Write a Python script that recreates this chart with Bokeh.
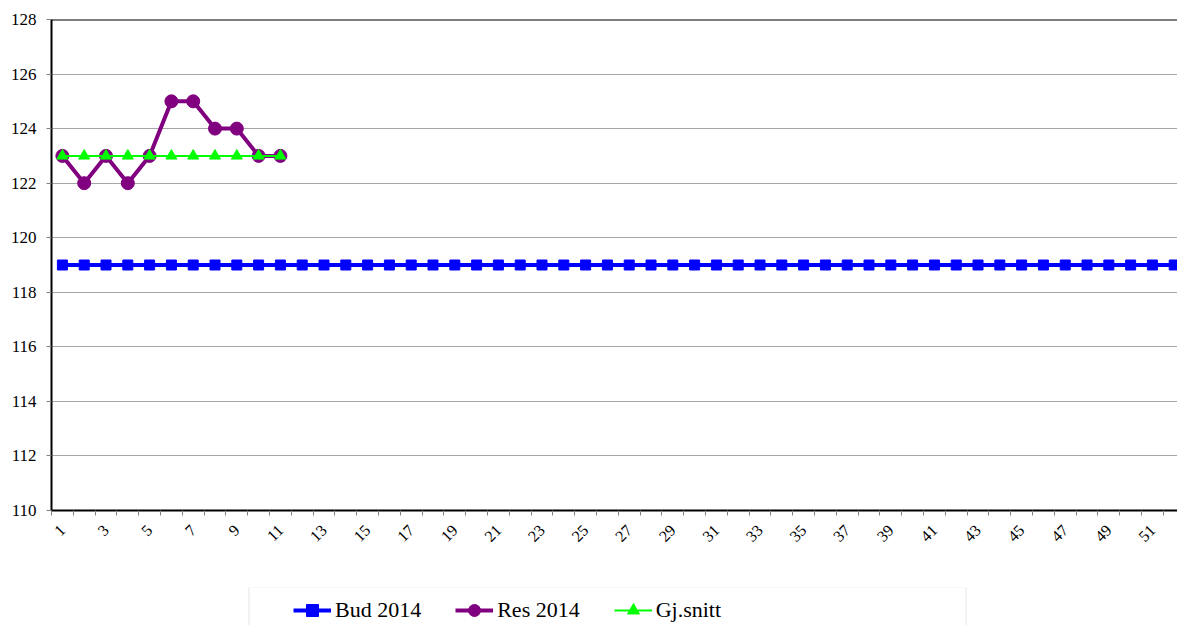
from bokeh.plotting import figure
from bokeh.models import Range1d, FixedTicker, Legend, LegendItem, Span, BoxAnnotation
from bokeh.layouts import column
from bokeh.embed import file_html
from bokeh.resources import INLINE
import math

weeks = list(range(1, 53))
bud_2014 = [119, 119, 119, 119, 119, 119, 119, 119, 119, 119, 119, 119, 119,
            119, 119, 119, 119, 119, 119, 119, 119, 119, 119, 119, 119, 119,
            119, 119, 119, 119, 119, 119, 119, 119, 119, 119, 119, 119, 119,
            119, 119, 119, 119, 119, 119, 119, 119, 119, 119, 119, 119, 119]
res_weeks = list(range(1, 12))
res_2014 = [123, 122, 123, 122, 123, 125, 125, 124, 124, 123, 123]
gj_snitt = [123, 123, 123, 123, 123, 123, 123, 123, 123, 123, 123]
y_ticks = [110, 112, 114, 116, 118, 120, 122, 124, 126, 128]
x_label_ticks = [w for w in weeks if w % 2 == 1]
x_boundaries = [w - 0.5 for w in weeks] + [52.5]
series_names = ["Bud 2014", "Res 2014", "Gj.snitt"]

FONT = "Liberation Serif"
BLUE, PURPLE, GREEN = "#0000FF", "#800080", "#00FF00"

p = figure(width=1177, height=587, output_backend="svg", toolbar_location=None,
           x_range=Range1d(0.5, 52.15), y_range=Range1d(110, 128),
           min_border_left=51, min_border_right=0, min_border_top=19,
           min_border_bottom=77)
p.outline_line_color = None
p.background_fill_color = "white"
p.border_fill_color = "white"

# grid
p.xgrid.visible = False
p.ygrid.ticker = FixedTicker(ticks=y_ticks)
p.ygrid.grid_line_color = "#a6a6a6"
p.ygrid.grid_line_width = 1

# y axis
ya = p.yaxis[0]
ya.ticker = FixedTicker(ticks=y_ticks)
ya.axis_line_color = "black"
ya.axis_line_width = 2
ya.major_tick_line_color = "#808080"
ya.major_tick_out = 5
ya.major_tick_in = 0
ya.minor_tick_line_color = None
ya.major_label_standoff = 10
ya.major_label_text_font = FONT
ya.major_label_text_font_size = "17px"
ya.major_label_text_color = "black"

# x axis
xa = p.xaxis[0]
xa.ticker = FixedTicker(ticks=x_label_ticks, minor_ticks=x_boundaries)
xa.axis_line_color = "black"
xa.axis_line_width = 2
xa.major_tick_line_color = None
xa.minor_tick_line_color = "#808080"
xa.minor_tick_out = 5
xa.minor_tick_in = 0
xa.major_label_orientation = math.pi / 4
xa.major_label_standoff = 11
xa.major_label_text_font = FONT
xa.major_label_text_font_size = "16px"
xa.major_label_text_color = "black"

# top border
p.add_layout(Span(location=128, dimension="width", line_color="black", line_width=2))

# series
styles = [
    dict(color=BLUE, lw=4, marker="square", size=10),
    dict(color=PURPLE, lw=4, marker="circle", size=13),
    dict(color=GREEN, lw=2, marker="triangle", size=11),
]
series_x = [weeks, res_weeks, res_weeks]
series_y = [bud_2014, res_2014, gj_snitt]
for xs, ys, st in zip(series_x, series_y, styles):
    p.line(xs, ys, line_color=st["color"], line_width=st["lw"])
    p.scatter(xs, ys, marker=st["marker"], size=st["size"],
              fill_color=st["color"], line_color=st["color"])

# legend strip (separate figure below the chart; its frame aligns with the chart's frame)
p2 = figure(width=1177, height=38, output_backend="svg", toolbar_location=None,
            x_range=Range1d(51, 1177), y_range=Range1d(0, 38),
            x_axis_location=None, y_axis_location=None,
            min_border_left=51, min_border_right=0, min_border_top=0, min_border_bottom=0)
p2.outline_line_color = None
p2.xgrid.visible = False
p2.ygrid.visible = False
p2.background_fill_color = "white"
p2.border_fill_color = "white"
p2.add_layout(BoxAnnotation(left=248.5, right=965.5, bottom=-10, top=38.5,
                            fill_color="white", fill_alpha=1,
                            line_color="#a6a6a6", line_width=1))

items = []
for name, xs, ys, st in zip(series_names, series_x, series_y, styles):
    # renderers lie outside the strip's visible y-range; they only supply legend glyphs
    r1 = p2.line(xs, ys, line_color=st["color"], line_width=st["lw"])
    r2 = p2.scatter(xs, ys, marker=st["marker"], size=st["size"],
                    fill_color=st["color"], line_color=st["color"])
    items.append(LegendItem(label=name, renderers=[r1, r2]))

legend = Legend(items=items, location=(242, 0), orientation="horizontal",
                padding=0, margin=0, spacing=34,
                glyph_width=38, glyph_height=30, label_standoff=4,
                label_text_font=FONT, label_text_font_size="22px",
                label_text_color="black",
                border_line_color=None, background_fill_alpha=0)
p2.add_layout(legend, "center")

layout = column(p, p2, spacing=0)
open("out.html", "w").write(file_html(layout, INLINE))
